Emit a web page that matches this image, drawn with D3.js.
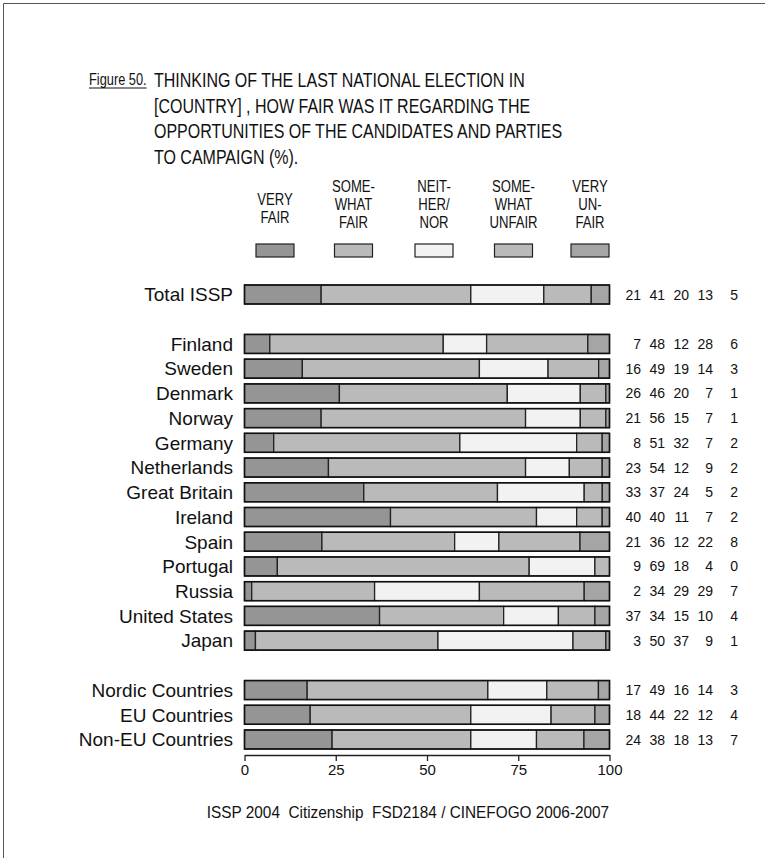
<!DOCTYPE html>
<html>
<head>
<meta charset="utf-8">
<script src="https://cdn.jsdelivr.net/npm/d3@7"></script>
<style>
  html, body { margin: 0; padding: 0; background: #fff; }
  svg { display: block; }
  text { font-family: "Liberation Sans", Arial, Helvetica, sans-serif; fill: #111; }
</style>
</head>
<body>
<svg id="chart" width="765" height="858"></svg>
<script>
// ---------------- DATA ----------------
const categories = ["Total ISSP", "Finland", "Sweden", "Denmark", "Norway", "Germany",
  "Netherlands", "Great Britain", "Ireland", "Spain", "Portugal", "Russia",
  "United States", "Japan", "Nordic Countries", "EU Countries", "Non-EU Countries"];
const veryFair       = [21,  7, 16, 26, 21,  8, 23, 33, 40, 21,  9,  2, 37,  3, 17, 18, 24];
const somewhatFair   = [41, 48, 49, 46, 56, 51, 54, 37, 40, 36, 69, 34, 34, 50, 49, 44, 38];
const neither        = [20, 12, 19, 20, 15, 32, 12, 24, 11, 12, 18, 29, 15, 37, 16, 22, 18];
const somewhatUnfair = [13, 28, 14,  7,  7,  7,  9,  5,  7, 22,  4, 29, 10,  9, 14, 12, 13];
const veryUnfair     = [ 5,  6,  3,  1,  1,  2,  2,  2,  2,  8,  0,  7,  4,  1,  3,  4,  7];
const seriesLabels = [["VERY", "FAIR"], ["SOME-", "WHAT", "FAIR"], ["NEIT-", "HER/", "NOR"],
  ["SOME-", "WHAT", "UNFAIR"], ["VERY", "UN-", "FAIR"]];
const seriesColors = ["#959595", "#bababa", "#f2f2f2", "#bababa", "#a5a5a5"];
const tickValues = [0, 25, 50, 75, 100];
const titleLines = ["THINKING OF THE LAST NATIONAL ELECTION IN",
  "[COUNTRY] , HOW FAIR WAS IT REGARDING THE",
  "OPPORTUNITIES OF THE CANDIDATES AND PARTIES",
  "TO CAMPAIGN (%)."];
const figureLabel = "Figure 50.";
const footer = "ISSP 2004  Citizenship  FSD2184 / CINEFOGO 2006-2007";
// row layout with blank spacer rows
const rowKeys = ["Total ISSP", "gap1", "Finland", "Sweden", "Denmark", "Norway", "Germany",
  "Netherlands", "Great Britain", "Ireland", "Spain", "Portugal", "Russia",
  "United States", "Japan", "gap2", "Nordic Countries", "EU Countries", "Non-EU Countries"];

const series = [veryFair, somewhatFair, neither, somewhatUnfair, veryUnfair];

// ---------------- DRAW ----------------
const svg = d3.select("#chart");
function condense(sel, factor) {
  sel.each(function () {
    const w = this.getComputedTextLength();
    d3.select(this).attr("textLength", w * factor).attr("lengthAdjust", "spacingAndGlyphs");
  });
  return sel;
}

// frame
svg.append("path").attr("d", "M3.5,860 V3.5 H770")
  .attr("fill", "none").attr("stroke", "#555").attr("stroke-width", 1);

// title
const fig = svg.append("text").attr("x", 89).attr("y", 85).attr("font-size", 16)
  .text(figureLabel).call(condense, 0.8);
svg.append("line").attr("x1", 89).attr("x2", 89 + +fig.attr("textLength"))
  .attr("y1", 88).attr("y2", 88).attr("stroke", "#111").attr("stroke-width", 1);

titleLines.forEach((t, i) => {
  svg.append("text").attr("x", 154).attr("y", 87 + i * 25.7).attr("font-size", 20.5)
    .text(t).call(condense, 0.78);
});

const x = d3.scaleLinear().domain([0, 100]).range([244.5, 609.5]);
const y = d3.scalePoint().domain(rowKeys).range([294.5, 739.5]);
const barH = 19;

// legend
const legendX = [275, 353.5, 434, 513.5, 590];
seriesLabels.forEach((lines, s) => {
  const firstY = lines.length === 3 ? 186.5 : 199;
  lines.forEach((ln, j) => {
    svg.append("text").attr("x", legendX[s]).attr("y", firstY + j * 18 + 5.5)
      .attr("text-anchor", "middle").attr("font-size", 16).text(ln).call(condense, 0.82);
  });
  svg.append("rect").attr("x", legendX[s] - 19).attr("y", 244).attr("width", 38).attr("height", 13)
    .attr("fill", seriesColors[s]).attr("stroke", "#222").attr("stroke-width", 1.2);
});

// bars
const rows = categories.map((c, i) => {
  const vals = series.map(sv => sv[i]);
  const total = d3.sum(vals);
  let cum = 0;
  const segs = vals.map((v, s) => {
    const a = cum / total * 100; cum += v;
    return { s, v, x0: a, x1: cum / total * 100 };
  });
  return { c, vals, segs };
});

const g = svg.append("g");
const rowG = g.selectAll("g.row").data(rows).join("g").attr("class", "row");
rowG.selectAll("rect.seg").data(d => d.segs.map(s => ({ ...s, c: d.c }))).join("rect")
  .attr("class", "seg")
  .attr("x", d => x(d.x0)).attr("width", d => Math.max(0, x(d.x1) - x(d.x0)))
  .attr("y", d => y(d.c) - barH / 2).attr("height", barH)
  .attr("fill", d => seriesColors[d.s]).attr("stroke", "#222").attr("stroke-width", 1.3);
rowG.append("rect")
  .attr("x", x(0)).attr("width", x(100) - x(0))
  .attr("y", d => y(d.c) - barH / 2).attr("height", barH)
  .attr("fill", "none").attr("stroke", "#111").attr("stroke-width", 1.5);

// category labels
rowG.append("text").attr("x", 233).attr("y", d => y(d.c) + 6.8)
  .attr("text-anchor", "end").attr("font-size", 19).text(d => d.c);

// numeric labels
const numRight = [641, 665, 689, 713, 738];
rowG.each(function (d) {
  d3.select(this).selectAll("text.num").data(d.vals).join("text").attr("class", "num")
    .attr("x", (v, k) => numRight[k]).attr("y", y(d.c) + 5)
    .attr("text-anchor", "end").attr("font-size", 14).text(v => v);
});

// axis
const axis = svg.append("g").attr("transform", "translate(0,755)")
  .call(d3.axisBottom(x).tickValues(tickValues).tickSize(6).tickSizeOuter(0).tickPadding(3));
axis.select(".domain").attr("stroke", "#222").attr("stroke-width", 1.3);
axis.selectAll(".tick line").attr("stroke", "#222").attr("stroke-width", 1.3);
axis.selectAll(".tick text").attr("font-size", 15).attr("fill", "#111")
  .attr("font-family", "'Liberation Sans', Arial, sans-serif");

// footer
svg.append("text").attr("x", 408).attr("y", 818).attr("text-anchor", "middle")
  .attr("font-size", 16.5).style("white-space", "pre").attr("xml:space", "preserve")
  .text(footer).call(condense, 0.93);
</script>
</body>
</html>
